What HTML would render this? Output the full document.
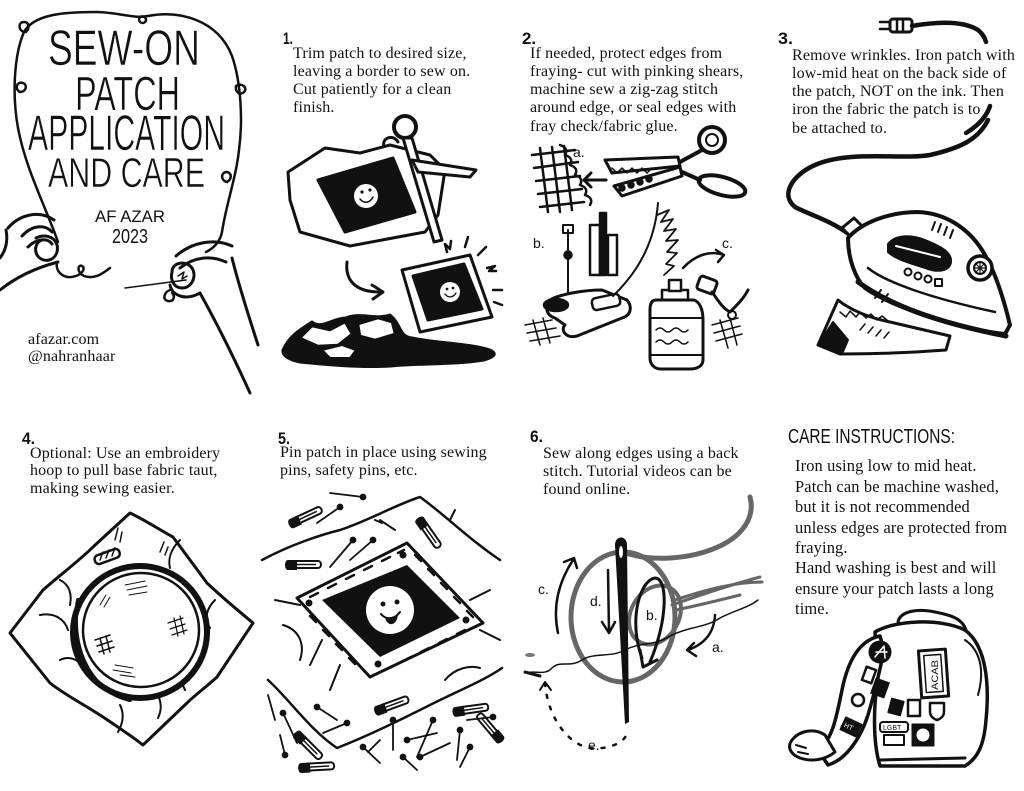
<!DOCTYPE html>
<html><head><meta charset="utf-8">
<style>
html,body{margin:0;padding:0;background:#fff;}
body{width:1024px;height:791px;position:relative;overflow:hidden;}
.t{position:absolute;font-family:"Liberation Serif",serif;font-size:16px;color:#111;white-space:nowrap;letter-spacing:0.15px;}
svg{position:absolute;left:0;top:0;}
.d{font-family:"Liberation Sans",sans-serif;fill:#111;text-transform:uppercase;}
.tt{stroke:#fff;stroke-width:0.6px;}
.n{font-family:"Liberation Sans",sans-serif;fill:#111;font-weight:bold;}
.h{font-family:"Liberation Sans",sans-serif;fill:#111;font-size:14px;}
</style></head><body>
<svg width="1024" height="791" viewBox="0 0 1024 791">
<defs>
<g id="sp"><path d="M6,0 L30,0 C34,0 34,7 30,7 L6,7" fill="none" stroke="#111" stroke-width="2"/><path d="M0,-1 L9,-1 L9,9 L0,9 C-4,9 -4,-1 0,-1Z" fill="#111"/><line x1="8" y1="3.5" x2="28" y2="3.5" stroke="#111" stroke-width="1.5"/></g>
</defs>

<!-- TITLE -->
<text class="d tt" x="48" y="65" font-size="50" textLength="152" lengthAdjust="spacingAndGlyphs">Sew-On</text>
<text class="d tt" x="75" y="110" font-size="48" textLength="105" lengthAdjust="spacingAndGlyphs">Patch</text>
<text class="d tt" x="28" y="150" font-size="50" textLength="197" lengthAdjust="spacingAndGlyphs">Application</text>
<text class="d tt" x="48" y="187" font-size="42" textLength="157" lengthAdjust="spacingAndGlyphs">and Care</text>
<text class="d" x="95" y="222" font-size="17" textLength="70" lengthAdjust="spacingAndGlyphs">AF Azar</text>
<text class="d" x="112" y="243" font-size="20" textLength="36" lengthAdjust="spacingAndGlyphs">2023</text>

<g fill="none" stroke="#111" stroke-width="2.5" stroke-linecap="round" stroke-linejoin="round">
<path d="M58,242 C45,205 26,170 18,128 C12,95 14,55 24,32 C34,14 65,12 95,12 C118,12 133,19 148,16 C180,10 218,20 232,56 C241,82 243,120 239,150 C236,178 226,205 222,232 C220,242 214,248 206,252"/>
<path d="M24,32 c-6,-2 -6,-10 0,-10 c5,0 6,6 2,10"/>
<path d="M140,17 c-3,4 2,8 5,5 c3,-3 -1,-7 -5,-5"/>
<path d="M236,86 c6,-4 12,2 8,6 c-4,4 -9,0 -8,-6"/>
<path d="M227,182 c-7,-2 -6,-10 0,-10 c5,1 5,7 0,10"/>
<path d="M20,92 c-6,-3 -3,-11 3,-9 c5,2 3,9 -3,9"/>
<path d="M57,262 C55,272 64,280 76,276 C82,274 86,268 82,266 C78,264 76,272 84,276 C96,280 104,272 110,268"/>
<path d="M170,290 c-6,2 -8,10 -2,11 c5,1 8,-4 4,-8"/>
<path d="M8,228 C20,214 40,210 54,220" stroke-width="3"/>
<path d="M22,236 C32,225 45,224 52,232" stroke-width="3"/>
<path d="M28,247 C37,238 48,238 52,244" stroke-width="3"/>
<path d="M36,238 C48,232 60,240 57,252 C54,262 42,263 37,255 C34,249 36,242 42,240" stroke-width="3"/>
<path d="M0,290 C15,278 35,268 58,262" stroke-width="3"/>
<path d="M0,258 C6,250 8,240 6,230" stroke-width="3"/>
<path d="M176,256 C192,242 214,238 232,246" stroke-width="3"/>
<path d="M180,268 C194,257 210,255 226,262" stroke-width="3"/>
<path d="M172,272 C172,262 186,260 192,268 C197,276 192,288 182,288 C174,288 170,280 172,272" stroke-width="3"/>
<path d="M178,276 l6,-4 l-2,7 l5,-3" stroke-width="1.5"/>
<path d="M170,285 C172,296 186,301 200,293" stroke-width="3"/>
<path d="M200,293 C215,320 235,360 250,393" stroke-width="3"/>
<path d="M232,258 C240,290 250,320 258,345" stroke-width="3"/>
<path d="M125,288 L186,280" stroke-width="1.5"/>
</g>

<!-- PANEL NUMBERS -->
<text class="n" x="283" y="44" font-size="17" textLength="10" lengthAdjust="spacingAndGlyphs">1.</text>
<text class="n" x="522" y="44" font-size="17" textLength="14" lengthAdjust="spacingAndGlyphs">2.</text>
<text class="n" x="778" y="44" font-size="17" textLength="15" lengthAdjust="spacingAndGlyphs">3.</text>
<text class="n" x="22" y="444" font-size="17" textLength="13" lengthAdjust="spacingAndGlyphs">4.</text>
<text class="n" x="278" y="444" font-size="17" textLength="12" lengthAdjust="spacingAndGlyphs">5.</text>
<text class="n" x="530" y="442" font-size="17" textLength="13" lengthAdjust="spacingAndGlyphs">6.</text>
<text class="d" x="788" y="443" font-size="20" textLength="167" lengthAdjust="spacingAndGlyphs">Care Instructions:</text>

<!-- PANEL 1 -->
<g stroke="#111" stroke-width="3" stroke-linejoin="round" stroke-linecap="round">
<path d="M386,150 C378,140 392,132 398,142" fill="none"/>
<path d="M288,172 L325,148 L360,153 L390,145 L430,155 L445,170 L438,215 L425,232 L350,246 L300,232 L290,200 Z" fill="#fff"/>
<path d="M318,180 L393,158 L415,212 L345,232 Z" fill="#111"/>
<circle cx="366" cy="196" r="12" fill="#fff" stroke="none"/>
<circle cx="362" cy="192" r="1.6" fill="#111" stroke="none"/><circle cx="370" cy="190" r="1.6" fill="#111" stroke="none"/>
<path d="M360,199 C364,204 370,203 373,197" fill="none" stroke-width="1.5"/>
<circle cx="405" cy="127" r="11" fill="#fff" stroke-width="4"/>
<path d="M403,138 L412,138 L442,240 L434,242 Z" fill="#fff"/>
<path d="M412,160 L476,170 L470,177 L418,172 Z" fill="#fff"/>
<path d="M347,262 C345,280 355,292 380,292" fill="none"/>
<path d="M372,285 L383,292 L373,299" fill="none"/>
<path d="M402,270 L470,255 L492,317 L420,332 Z" fill="#fff"/>
<path d="M413,276 L464,264 L482,309 L428,320 Z" fill="#111"/>
<circle cx="450" cy="292" r="10" fill="#fff" stroke="none"/>
<circle cx="447" cy="289" r="1.4" fill="#111" stroke="none"/><circle cx="453" cy="288" r="1.4" fill="#111" stroke="none"/>
<path d="M445,294 C448,298 453,298 456,293" fill="none" stroke-width="1.3"/>
<g fill="none" stroke-width="2.5">
<path d="M447,252 l-2,-8 l5,5 l1,-8"/><path d="M465,247 l3,-10"/><path d="M478,255 l8,-8"/><path d="M487,268 l8,-2 l-6,5 l7,0"/><path d="M493,290 l9,0"/><path d="M494,302 l8,3"/>
</g>
<path d="M283,350 C290,335 300,330 312,322 C322,330 332,318 346,318 C360,312 376,320 390,315 C402,325 398,336 412,338 C432,342 452,343 472,346 C492,349 504,354 484,360 C452,365 420,363 390,366 C360,368 320,364 300,362 C290,360 282,356 283,350 Z" fill="#111"/>
<path d="M300,338 L312,326 L330,330 L345,322 L352,334 L338,345 L318,346 Z" fill="#fff" stroke-width="2.5"/>
<path d="M358,324 L378,318 L392,322 L395,334 L375,340 L360,336 Z" fill="#fff" stroke-width="2.5"/>
<path d="M322,350 L342,345 L356,350 L350,358 L330,358 Z" fill="#fff" stroke-width="2"/>
</g>

<!-- PANEL 2 -->
<g stroke="#111" stroke-width="2.5" fill="none" stroke-linecap="round" stroke-linejoin="round">
<path d="M532,155 L575,150 M534,168 L578,162 M536,181 L580,176 M538,194 L582,189 M540,207 L584,202"/>
<path d="M540,148 L548,212 M552,147 L560,212 M564,146 L572,210"/>
<path d="M560,145 q9,3 5,10 q9,3 5,10 q9,3 5,10 q9,3 5,10 q9,3 5,10 q9,3 5,10"/>
<path d="M606,180 L584,180 M591,173 L584,180 L591,187" stroke-width="3"/>
<path d="M605,160 L678,157 L680,166 L612,173 Z" fill="#fff" stroke-width="3"/>
<path d="M612,168 l5,5 l5,-5 l5,5 l5,-5 l5,5 l5,-5 l5,5 l5,-5" stroke-width="1.5"/>
<path d="M614,186 L680,167 L682,176 L622,196 Z" fill="#fff" stroke-width="3"/>
<circle cx="622" cy="188" r="2.5" fill="#111"/><circle cx="631" cy="185" r="2.5" fill="#111"/><circle cx="640" cy="182" r="2.5" fill="#111"/><circle cx="649" cy="179" r="2.5" fill="#111"/>
<path d="M680,162 L702,150" stroke-width="4"/>
<circle cx="712" cy="140" r="13" stroke-width="4"/><circle cx="712" cy="140" r="6" stroke-width="2"/>
<path d="M682,172 L700,180" stroke-width="4"/>
<ellipse cx="722" cy="186" rx="24" ry="9" transform="rotate(15 722 186)" stroke-width="4"/>
<path d="M568,230 L568,305" stroke-width="2"/>
<rect x="563" y="225" width="10" height="8" stroke-width="2"/>
<circle cx="568" cy="255" r="3.5" fill="#111"/>
<rect x="590" y="225" width="10" height="50" fill="#fff" stroke-width="2.5"/>
<rect x="600" y="213" width="6" height="62" fill="#111"/>
<rect x="608" y="235" width="9" height="40" fill="#fff" stroke-width="2.5"/>
<path d="M550,300 C560,294 585,290 602,290 L627,300 C632,306 632,315 622,318 L577,336 C566,339 560,330 565,325 L555,318 C545,315 545,305 550,300 Z" fill="#fff" stroke-width="3"/>
<ellipse cx="556" cy="305" rx="12" ry="6" fill="#111"/>
<rect x="592" y="296" width="28" height="12" rx="4" fill="#fff" stroke-width="2.5" transform="rotate(-12 606 302)"/>
<path d="M525,325 L552,320 M527,333 L556,328 M530,341 L560,336 M533,320 L540,345 M543,318 L550,343" stroke-width="1.5"/>
<path d="M658,203 C655,240 640,270 613,296" stroke-width="2"/>
<path d="M657,215 l12,-5 l-8,12 l12,-3 l-9,12 l12,-2 l-10,12 l12,-1 l-11,12 l10,1 l-11,11 l8,2 l-10,9" stroke-width="1.8"/>
<path d="M662,290 L688,290 L688,300 L662,300 Z" fill="#fff"/>
<rect x="669" y="280" width="12" height="11" fill="#fff"/>
<path d="M656,300 L694,300 C700,302 703,310 703,320 L703,360 C703,366 697,369 690,369 L661,369 C654,369 650,364 650,358 L650,310 C650,303 652,300 656,300 Z" fill="#fff" stroke-width="3"/>
<path d="M650,318 L703,318 M650,355 L703,355" stroke-width="2"/>
<path d="M656,330 q4,-4 8,0 q4,4 8,0 q4,-4 8,0 q4,4 8,0 M656,342 q4,-4 8,0 q4,4 8,0 q4,-4 8,0 q4,4 8,0" stroke-width="1.5"/>
<path d="M683,268 C695,255 710,250 724,255 M716,250 L724,255 L718,262" stroke-width="2.5"/>
<rect x="698" y="278" width="18" height="14" rx="3" fill="#fff" transform="rotate(20 707 285)" stroke-width="3"/>
<path d="M712,292 C718,300 722,308 730,312 C738,304 744,298 748,290" stroke-width="3"/>
<circle cx="732" cy="315" r="4" stroke-width="2"/>
<path d="M712,325 L738,318 M714,333 L740,326 M716,341 L742,334 M720,320 L728,348 M730,318 L737,345" stroke-width="1.5"/>
</g>
<text class="h" x="573" y="157">a.</text>
<text class="h" x="533" y="248">b.</text>
<text class="h" x="722" y="248">c.</text>

<!-- PANEL 3 -->
<g stroke="#111" fill="none" stroke-linecap="round" stroke-linejoin="round">
<rect x="890" y="19" width="22" height="13" rx="3" fill="#fff" stroke-width="3"/>
<path d="M890,22 L880,22 M890,29 L880,29 M897,19 L897,32 M903,19 L903,32" stroke-width="2.5"/>
<path d="M912,26 C935,22 962,20 978,30 C983,34 985,38 986,42" stroke-width="4.5"/>
<path d="M990,106 C986,118 976,127 966,133" stroke-width="4.5"/>
<path d="M988,120 C978,140 960,148 930,155 C900,160 850,150 815,165 C792,175 780,195 795,207 C810,215 830,220 850,235" stroke-width="4.5"/>
<path d="M842,228 L854,218 L872,236 L860,246 Z" fill="#fff" stroke-width="3"/>
<path d="M818,345 L838,300 C850,310 870,318 890,322 L950,336 L946,350 C920,352 880,354 840,354 Z" fill="#fff" stroke-width="3"/>
<path d="M818,345 L833,322 L848,340 L842,354 Z" fill="#111" stroke-width="2"/>
<path d="M840,312 l6,5 l4,-6 l6,6 l4,-5 l6,6 l5,-4 l6,6 l5,-4 l6,5" stroke-width="1.5"/>
<path d="M860,330 l5,-6 M868,333 l5,-6 M876,336 l5,-6 M884,338 l5,-6" stroke-width="1.5"/>
<path d="M848,238 C862,222 890,212 918,212 C945,213 968,228 982,250 C995,270 1004,300 1010,325 L1005,334 C985,332 960,326 935,318 C910,310 885,302 865,288 C855,278 848,258 848,238 Z" fill="#fff" stroke-width="4"/>
<path d="M858,282 C890,305 935,322 1006,336" stroke-width="5"/>
<path d="M868,268 C885,282 930,298 995,312" stroke-width="2.5"/>
<path d="M888,244 C895,235 910,234 925,240 C940,246 952,252 951,262 C950,270 940,273 928,269 C910,263 895,259 888,252 Z" fill="#111" stroke-width="2"/>
<path d="M896,246 L940,257" stroke="#fff" stroke-width="2"/>
<path d="M935,222 l-3,8 M941,224 l-3,8 M947,227 l-3,8 M953,230 l-3,8" stroke-width="2"/>
<circle cx="908" cy="272" r="3.5" stroke-width="2"/><circle cx="918" cy="276" r="3.5" stroke-width="2"/><circle cx="928" cy="279" r="3.5" stroke-width="2"/>
<rect x="935" y="279" width="7" height="7" stroke-width="2"/>
<circle cx="980" cy="268" r="12" fill="#fff" stroke-width="3.5"/>
<circle cx="980" cy="268" r="6" stroke-width="2"/>
<path d="M980,262 L980,274 M974,268 L986,268 M976,264 L984,272 M984,264 L976,272" stroke-width="1.2"/>
<path d="M875,298 l6,-8 M882,302 l6,-8" stroke-width="2"/>
</g>

<!-- PANEL 4 -->
<g stroke="#111" fill="none" stroke-linecap="round" stroke-linejoin="round">
<path d="M10,633 L43,590 C60,575 80,560 93,547 L130,513 C145,520 160,530 173,537 L207,583 C225,600 240,612 253,623 L217,677 C205,688 195,695 187,703 L143,745 C130,735 115,725 103,717 C85,705 65,695 50,683 Z" fill="#fff" stroke-width="3"/>
<path d="M60,580 C70,585 72,595 70,605 M40,615 C55,612 65,620 68,630 M60,660 C70,655 80,660 85,670 M180,540 C170,550 168,560 170,568 M215,600 C205,610 205,620 210,628 M185,690 C180,680 178,670 182,660 M120,705 C125,715 122,725 118,732 M155,690 C162,700 162,710 158,718" stroke-width="2"/>
<path d="M115,540 l3,-12 M120,542 l2,-10 M160,552 l4,-10 M165,555 l3,-8" stroke-width="1.5"/>
<ellipse cx="140" cy="632" rx="67" ry="66" fill="#fff" stroke-width="6"/>
<ellipse cx="141" cy="630" rx="58" ry="57" stroke-width="2.5"/>
<path d="M78,600 C70,640 85,690 130,700" stroke-width="4"/>
<rect x="94" y="552" width="26" height="9" rx="4" fill="#fff" stroke-width="2.5" transform="rotate(-20 107 556)"/>
<path d="M100,560 l3,-8 M106,558 l3,-8 M112,556 l3,-8" stroke-width="1.5"/>
<path d="M95,640 l15,-5 M97,646 l15,-5 M99,652 l15,-5 M100,638 l4,16 M106,636 l4,16" stroke-width="1.5"/>
<path d="M168,623 l15,-5 M170,629 l15,-5 M172,635 l15,-5 M174,618 l4,18 M180,616 l4,18" stroke-width="1.2"/>
<path d="M125,585 l20,-4 M127,590 l20,-4 M129,595 l18,-3 M100,605 l6,-10 M104,607 l6,-10" stroke-width="1"/>
<path d="M115,665 l18,3 M113,670 l18,3 M120,675 l15,2" stroke-width="1"/>
</g>

<!-- PANEL 5 -->
<g stroke="#111" fill="none" stroke-linecap="round" stroke-linejoin="round">
<path d="M262,560 C290,545 320,535 340,530 C370,520 395,505 420,497 C445,515 470,540 500,560" stroke-width="2.5"/>
<path d="M268,680 C290,700 310,730 337,748 C370,735 400,720 430,705 C460,690 485,680 502,668" stroke-width="2.5"/>
<path d="M275,600 L300,605 M283,625 C300,630 305,645 300,660 M310,665 L322,640 M330,690 L340,665 M445,680 C455,668 470,665 480,668 M470,600 L490,590 M480,630 L500,640 M450,520 L455,510 M395,530 L380,520 M382,523 L375,520" stroke-width="2"/>
<path d="M297,598 L407,543 L483,623 L370,677 Z" fill="#fff" stroke-width="3"/>
<path d="M322,600 L407,565 L460,618 L380,657 Z" fill="#111" stroke="none"/>
<circle cx="390" cy="610" r="24" fill="#fff" stroke="none"/>
<circle cx="383" cy="604" r="2.5" fill="#111" stroke="none"/><circle cx="397" cy="602" r="2.5" fill="#111" stroke="none"/>
<path d="M381,614 C386,620 394,620 400,612" stroke-width="2"/>
<path d="M386,618 C388,626 396,625 397,616" fill="#111" stroke-width="1.5"/>
<g stroke-width="2.5">
<path d="M310,597 l8,-4 M328,588 l8,-4 M346,579 l8,-4 M364,570 l8,-4 M382,561 l8,-4 M398,553 l6,-3"/>
<path d="M415,555 l6,6 M428,569 l6,6 M441,583 l6,6 M454,597 l6,6 M467,611 l6,6"/>
<path d="M465,630 l-8,4 M447,639 l-8,4 M429,648 l-8,4 M411,657 l-8,4 M393,666 l-8,4"/>
<path d="M355,664 l-6,-6 M342,650 l-6,-6 M329,636 l-6,-6 M316,622 l-6,-6"/>
</g>
<circle cx="403" cy="555" r="3" fill="#111"/><circle cx="466" cy="620" r="3" fill="#111"/><circle cx="378" cy="664" r="3" fill="#111"/><circle cx="309" cy="603" r="3" fill="#111"/>
<g stroke-width="1.8">
<line x1="330" y1="493" x2="363" y2="497"/><circle cx="363" cy="497" r="2.5" fill="#111"/>
<line x1="317" y1="523" x2="340" y2="507"/><circle cx="340" cy="507" r="2.5" fill="#111"/>
<line x1="330" y1="567" x2="353" y2="540"/><circle cx="353" cy="540" r="2.5" fill="#111"/>
<line x1="350" y1="560" x2="373" y2="540"/><circle cx="373" cy="540" r="2.5" fill="#111"/>
<line x1="297" y1="743" x2="283" y2="713"/><circle cx="283" cy="713" r="2.5" fill="#111"/>
<line x1="337" y1="720" x2="317" y2="707"/><circle cx="317" cy="707" r="2.5" fill="#111"/>
<line x1="323" y1="733" x2="347" y2="723"/><circle cx="347" cy="723" r="2.5" fill="#111"/>
<line x1="380" y1="763" x2="363" y2="747"/><circle cx="363" cy="747" r="2.5" fill="#111"/>
<line x1="393" y1="750" x2="393" y2="720"/><circle cx="393" cy="720" r="2.5" fill="#111"/>
<line x1="417" y1="770" x2="403" y2="757"/><circle cx="403" cy="757" r="2.5" fill="#111"/>
<line x1="437" y1="733" x2="407" y2="740"/><circle cx="407" cy="740" r="2.5" fill="#111"/>
<line x1="417" y1="757" x2="433" y2="720"/><circle cx="433" cy="720" r="2.5" fill="#111"/>
<line x1="450" y1="743" x2="420" y2="757"/><circle cx="420" cy="757" r="2.5" fill="#111"/>
<line x1="457" y1="760" x2="460" y2="730"/><circle cx="460" cy="730" r="2.5" fill="#111"/>
<line x1="460" y1="767" x2="470" y2="747"/><circle cx="470" cy="747" r="2.5" fill="#111"/>
<line x1="467" y1="720" x2="493" y2="717"/><circle cx="493" cy="717" r="2.5" fill="#111"/>
<line x1="285" y1="755" x2="280" y2="735"/><circle cx="285" cy="755" r="2.5" fill="#111"/>
<line x1="268" y1="695" x2="275" y2="720"/>
<line x1="368" y1="752" x2="380" y2="740"/>
</g>
</g>
<use href="#sp" transform="translate(290,520) rotate(-25)"/>
<use href="#sp" transform="translate(288,561)"/>
<use href="#sp" transform="translate(423,518) rotate(55)"/>
<use href="#sp" transform="translate(376,707) rotate(-20)"/>
<use href="#sp" transform="translate(455,708) rotate(-8)"/>
<use href="#sp" transform="translate(497,742) rotate(-130)"/>
<use href="#sp" transform="translate(300,732) rotate(45)"/>
<use href="#sp" transform="translate(301,764) rotate(-3)"/>

<!-- PANEL 6 -->
<g fill="none" stroke-linecap="round" stroke-linejoin="round">
<ellipse cx="623" cy="617" rx="52" ry="65" stroke="#666" stroke-width="5"/>
<ellipse cx="655" cy="615" rx="24" ry="31" transform="rotate(30 655 615)" stroke="#666" stroke-width="4"/>
<path d="M623,552 C650,562 690,560 720,546 C745,534 755,515 750,497" stroke="#666" stroke-width="5"/>
<path d="M672,605 C700,595 730,585 760,577 M675,600 C705,590 735,582 762,582 M676,610 C700,605 720,600 740,595" stroke="#666" stroke-width="3"/>
<path d="M615,545 C615,535 627,535 627,545 L629,722 L625,724 Z" fill="#111"/>
<ellipse cx="621" cy="552" rx="2" ry="6" fill="#fff"/>
<path d="M642,658 C628,620 640,580 655,578 C668,578 668,620 650,662" stroke="#111" stroke-width="3"/>
<path d="M640,650 L643,667 L657,660" stroke="#111" stroke-width="3"/>
<path d="M608,570 L609,632 M602,622 L609,633 L615,622" stroke="#111" stroke-width="2.5"/>
<path d="M558,633 C552,605 560,580 573,560 M564,562 L574,558 L577,568" stroke="#111" stroke-width="2.5"/>
<path d="M715,615 C714,635 702,645 688,650 M694,643 L687,650 L696,656" stroke="#111" stroke-width="2.5"/>
<path d="M525,673 C535,670 545,676 552,668 C560,660 570,668 582,660 C595,652 610,658 625,650 C640,642 655,646 670,636 C690,626 705,628 720,618 C735,610 748,608 758,600" stroke="#111" stroke-width="1.5"/>
<path d="M525,672 L540,676" stroke="#111" stroke-width="3"/>
<ellipse cx="530" cy="655" rx="5" ry="2" fill="#777"/>
<path d="M545,683 C548,720 570,745 590,748 C610,750 625,742 627,733" stroke="#111" stroke-width="2.5" stroke-dasharray="3 9"/>
<path d="M540,690 L545,682 L551,690" stroke="#111" stroke-width="2"/>
</g>
<text class="h" x="538" y="594">c.</text>
<text class="h" x="590" y="606">d.</text>
<text class="h" x="646" y="620">b.</text>
<text class="h" x="712" y="652">a.</text>
<text class="h" x="588" y="750">e.</text>

<!-- JACKET -->
<g stroke="#111" fill="none" stroke-linecap="round" stroke-linejoin="round">
<path d="M898,622 C900,612 915,608 935,612 C950,615 962,618 966,630 C955,628 940,625 925,626 C912,627 902,628 898,622 Z" fill="#fff" stroke-width="3"/>
<path d="M875,632 C895,620 940,618 965,630 C985,645 990,680 986,720 C984,745 978,758 965,766 L880,766 C872,740 874,700 878,680 Z" fill="#fff" stroke-width="3.5"/>
<path d="M965,640 C980,650 985,670 978,695" stroke-width="2"/>
<path d="M880,636 C860,640 848,660 842,690 C836,720 832,740 818,750 L828,765 C845,760 860,740 868,715 C874,695 880,670 884,650 Z" fill="#fff" stroke-width="3.5"/>
<path d="M792,740 C800,730 815,728 825,735 L835,752 C825,760 812,762 800,758 C792,755 786,748 792,740 Z" fill="#fff" stroke-width="3"/>
<path d="M796,745 l10,3 M798,752 l10,2" stroke-width="2"/>
<path d="M880,760 L965,758" stroke-width="3"/>
<circle cx="880" cy="652" r="11" fill="#111"/>
<path d="M875,657 L884,646 L885,658 M876,652 L887,652" stroke="#fff" stroke-width="1.5"/>
<rect x="920" y="650" width="27" height="47" fill="#fff" stroke-width="3" transform="rotate(-4 933 673)"/>
<rect x="925" y="655" width="17" height="37" stroke-width="1.5" transform="rotate(-4 933 673)"/>
<rect x="908" y="700" width="12" height="16" stroke-width="2.5"/>
<path d="M930,703 L944,703 L944,712 C944,718 937,720 937,720 C937,720 930,718 930,712 Z" stroke-width="2.5"/>
<rect x="880" y="722" width="28" height="10" rx="3" fill="#fff" stroke-width="2"/>
<rect x="912" y="724" width="22" height="22" fill="#111"/>
<circle cx="923" cy="735" r="7" fill="#fff"/>
<rect x="884" y="735" width="20" height="10" stroke-width="2"/>
<rect x="890" y="700" width="12" height="14" fill="#111" stroke-width="2" transform="rotate(15 896 707)"/>
<rect x="864" y="668" width="10" height="14" fill="#fff" stroke-width="2.5" transform="rotate(20 869 675)"/>
<rect x="873" y="680" width="14" height="16" fill="#111" transform="rotate(20 880 688)"/>
<circle cx="858" cy="700" r="6" stroke-width="2.5"/>
<rect x="842" y="720" width="18" height="14" fill="#111" transform="rotate(25 851 727)"/>
</g>
<text x="938" y="690" font-family="Liberation Sans, sans-serif" font-size="9" fill="#111" transform="rotate(-90 938 690)" textLength="30" lengthAdjust="spacingAndGlyphs">ACAB</text>
<text x="883" y="730" font-family="Liberation Sans, sans-serif" font-size="7" fill="#111">LGBT</text>
<text x="844" y="730" font-family="Liberation Sans, sans-serif" font-size="7" fill="#fff" transform="rotate(25 851 727)">HT</text>
</svg>

<div class="t" style="left:293px;top:44.5px;line-height:18.3px;">Trim patch to desired size,<br>leaving a border to sew on.<br>Cut patiently for a clean<br>finish.</div>
<div class="t" style="left:530px;top:44.5px;line-height:18.3px;">If needed, protect edges from<br>fraying- cut with pinking shears,<br>machine sew a zig-zag stitch<br>around edge, or seal edges with<br>fray check/fabric glue.</div>
<div class="t" style="left:792px;top:46.5px;line-height:18.3px;">Remove wrinkles. Iron patch with<br>low-mid heat on the back side of<br>the patch, NOT on the ink. Then<br>iron the fabric the patch is to<br>be attached to.</div>
<div class="t" style="left:28px;top:330.5px;line-height:17px;">afazar.com<br>@nahranhaar</div>
<div class="t" style="left:30px;top:444.5px;line-height:17.6px;">Optional: Use an embroidery<br>hoop to pull base fabric taut,<br>making sewing easier.</div>
<div class="t" style="left:280px;top:443.5px;line-height:18px;">Pin patch in place using sewing<br>pins, safety pins, etc.</div>
<div class="t" style="left:543px;top:444.5px;line-height:18px;">Sew along edges using a back<br>stitch. Tutorial videos can be<br>found online.</div>
<div class="t" style="left:795px;top:456.4px;line-height:20.4px;font-size:16.4px;">Iron using low to mid heat.<br>Patch can be machine washed,<br>but it is not recommended<br>unless edges are protected from<br>fraying.<br>Hand washing is best and will<br>ensure your patch lasts a long<br>time.</div>
</body></html>
